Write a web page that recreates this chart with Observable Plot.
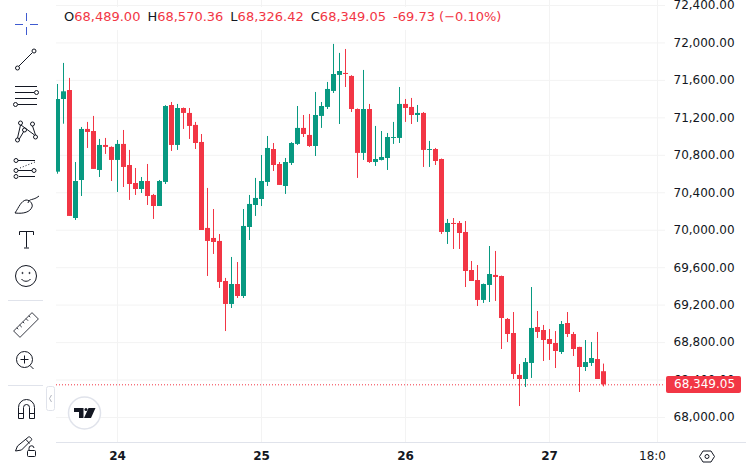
<!DOCTYPE html>
<html>
<head>
<meta charset="utf-8">
<script src="https://cdn.jsdelivr.net/npm/d3@7"></script>
<script src="https://cdn.jsdelivr.net/npm/@observablehq/plot@0.6"></script>
<style>
  body { margin: 0; background: #fff; overflow: hidden; font-family: "DejaVu Sans", sans-serif; }
  #wrap { position: relative; width: 746px; height: 470px; overflow: hidden; }
  #wrap > * { position: absolute; }
  #legend { left: 60px; top: 7px; height: 23px; line-height: 19px; padding: 0 10px 0 4px; background: #fff; font-size: 13px; color: #F23645; white-space: pre; }
  #legend b { font-weight: normal; color: #131722; }
  #legend span { margin-right: 7px; }
  #bottomline { left: 56px; right: 0; top: 442px; height: 1px; background: #e0e3eb; }
  #pricetag { left: 666px; width: 67px; height: 17px; line-height: 17px; padding-left: 8px; background: #F23645; color: #fff; font-size: 12px; border-radius: 2px; }
</style>
</head>
<body>
<div id="wrap">
  <div id="chart" style="left:0;top:0"></div>
  <div id="bottomline"></div>
  <div id="legend"></div>
  <svg id="tools" width="746" height="470" style="left:0;top:0" fill="none" stroke="#131722" stroke-width="1">
    <!-- crosshair -->
    <path d="M26.5 13v8M26.5 27v8M15 24.5h8M30 24.5h8" stroke="#3f5bd0"/>
    <!-- trend line -->
    <path d="M19 66L32 53"/><circle cx="17.5" cy="68" r="2"/><circle cx="34" cy="51" r="2"/>
    <!-- pitchfork lines -->
    <path d="M15 86.5h22M15 92.5h19M15 98.5h22M18 104.5h19"/><circle cx="36.5" cy="92.5" r="2"/><circle cx="15.5" cy="104.5" r="2"/>
    <!-- pattern -->
    <path d="M20.5 125L17.5 138M21 125L34.5 135M32.5 126L35.5 135M19 139.5L24 131"/>
    <circle cx="20.5" cy="123" r="2"/><circle cx="32.5" cy="124" r="2"/><circle cx="17.5" cy="140" r="2"/><circle cx="35.5" cy="137" r="2"/><circle cx="24.5" cy="130" r="2"/>
    <!-- forecast -->
    <path d="M18 160.5h17M18 170.5h14M19 176.5h16"/><path d="M20 168L35 162" stroke-dasharray="1 2"/>
    <circle cx="16" cy="160.5" r="2"/><circle cx="16" cy="170.5" r="2"/><circle cx="34" cy="170.5" r="2"/><circle cx="16" cy="176.5" r="2"/>
    <!-- brush -->
    <path d="M15 213C19 207 21 201 26 200C31 200 33 205 32 207C30 212 24 214 15 213ZM28 203C29 198 33 201 39 196"/>
    <!-- text -->
    <path d="M19.5 235v-3.5h14v3.5M26.5 231.5v16M24 248h5"/>
    <!-- smiley -->
    <circle cx="26" cy="276" r="10.5"/><path d="M21.5 279c2 3 7 3 9 0"/><circle cx="22.5" cy="273" r=".6"/><circle cx="29.5" cy="273" r=".6"/>
    <!-- separators -->
    <path d="M8 300.5h35M8 385.5h35" stroke="#e0e3eb"/>
    <!-- ruler -->
    <g transform="rotate(-45 26 325)" stroke-width=".8"><rect x="13" y="320.5" width="26" height="9"/><path d="M17.5 320.5v2M21.500 320.5v3M26 320.5v2M30.500 320.500v3M34.500 320.500v2"/></g>
    <!-- zoom -->
    <circle cx="24.500" cy="359.500" r="8"/><path d="M30 365.500l3.500 3.500M24.500 355.500v8M20.500 359.500h8"/>
    <!-- collapse tab -->
    <rect x="46.500" y="386.500" width="8" height="24" rx="2" stroke="#e0e3eb"/><path d="M51.500 395l-2 3.500 2 3.500" stroke="#b2b5be"/>
    <!-- magnet -->
    <path d="M18.500 418.500v-11a8 8 0 0 1 16 0v11h-5v-11a3 3 0 0 0-6 0v11ZM18.500 413.500h5M29.500 413.500h5"/>
    <!-- pencil lock -->
    <path d="M15.500 451l2-5 11-9c1-1 4 2 3 3l-10 10ZM26 439.500l3.500 4"/><rect x="27.500" y="450.500" width="8" height="6" rx="1"/><path d="M29 450.500v-2a2.500 2.500 0 0 1 5 -.5"/>
    <!-- logo -->
    <circle cx="84.500" cy="413" r="16" stroke="#e0e3eb" stroke-width="1.500" fill="#fff"/>
    <path d="M74 408h9.500v10h-4.500v-6h-5ZM88.500 408h7l-4.500 10h-7Z" fill="#131722" stroke="none"/><circle cx="86" cy="409.500" r="1.500" fill="#131722" stroke="none"/>
    <!-- settings -->
    <path d="M699.500 456.500l3.500-5.500h8l3.500 5.500-3.500 5.500h-8Z"/><circle cx="707" cy="456.500" r="2"/>
  </svg>
</div>
<script>
const hours = [-10,-9,-8,-7,-6,-5,-4,-3,-2,-1,0,1,2,3,4,5,6,7,8,9,10,11,12,13,14,15,16,17,18,19,20,21,22,23,24,25,26,27,28,29,30,31,32,33,34,35,36,37,38,39,40,41,42,43,44,45,46,47,48,49,50,51,52,53,54,55,56,57,58,59,60,61,62,63,64,65,66,67,68,69,70,71,72,73,74,75,76,77,78,79,80,81]

const opens = [70620,71396,71492,70125,70531,71076,71054,70638,70905,70884,70745,70916,70691,70499,70435,70520,70371,70253,70510,71332,70905,71300,71247,71119,70937,70019,69912,69880,69452,69207,69420,69292,70029,70264,70328,70510,70862,70702,70467,70713,70916,71087,71012,70894,71215,71311,71482,71653,71674,71642,71289,70820,71289,70723,70745,70766,70980,70980,71343,71311,71225,71247,70852,70862,70755,69976,70072,70072,69976,69570,69463,69250,69410,69517,69506,69047,68897,68449,68406,68577,68961,68929,68833,68790,68694,69004,68886,68748,68534,68577,68619,68489.00]
const highs = [71556,71781,71621,70723,71097,71151,71215,70969,70980,70890,70958,71065,70852,70659,70563,70702,70382,70531,71330,71364,71343,71305,71300,71151,71022,70446,70221,69954,69485,69709,69655,70221,70371,70553,70798,71001,70926,70723,70766,70935,71321,71225,71236,71471,71364,71578,71984,71888,71930,71650,71295,71706,71343,71108,71054,71033,71151,71524,71396,71407,71332,71257,70948,70873,70760,70115,70125,70093,70093,69666,69623,69425,69826,69773,69510,69057,69121,68566,68630,69388,69132,68983,68940,68918,69025,69121,68908,68750,68822,68801,68908,68570.36]
const lows = [70598,71132,70147,70104,70360,70873,70649,70563,70809,70520,70403,70456,70318,70371,70392,70264,70115,70253,70488,70841,70852,71076,70969,70862,69997,69506,69741,69378,68918,69164,69271,69271,69890,70147,70253,70467,70627,70478,70382,70691,70905,70990,70884,70787,71087,71289,71460,71129,71524,71257,70553,70745,70713,70681,70740,70638,70916,70926,71151,71129,71151,70670,70670,70691,69954,69848,69794,69794,69388,69452,69185,69218,69228,69239,68726,68801,68406,68117,68320,68417,68844,68598,68609,68523,68673,68854,68651,68267,68491,68545,68406,68326.42]
const closes = [71396,71478,70147,70520,71076,71044,70649,70905,70884,70745,70916,70670,70488,70435,70520,70360,70253,70520,71321,70905,71300,71247,71108,70926,69997,69880,69869,69442,69207,69420,69292,70040,70275,70339,70520,70873,70691,70478,70723,70926,71087,71022,70894,71225,71321,71503,71663,71695,71663,71289,70820,71289,70723,70755,70777,70990,70990,71343,71300,71225,71247,70852,70862,70734,69976,70072,70061,69965,69559,69452,69250,69420,69527,69495,69057,68886,68459,68406,68587,68951,68908,68822,68780,68705,68993,68886,68726,68534,68587,68630,68406,68349.05]

const priceTicks = [68000,68400,68800,69200,69600,70000,70400,70800,71200,71600,72000,72400]
const dayTicks = [0,24,48,72]
const dayLabels = ["24","25","26","27"]
const timeTicks = [90]
const timeLabels = ["18:0"]
const lastClose = 68349.05

const legendItems = [["O","68,489.00"],["H","68,570.36"],["L","68,326.42"],["C","68,349.05"]]
const legendChange = "-69.73 (\u22120.10%)"

const up = "#089981"
const down = "#F23645"
const gridColor = "#f3f3f3"

const candles = hours.map((h, i) => ({
  h, open: opens[i], high: highs[i], low: lows[i], close: closes[i],
  color: closes[i] >= opens[i] ? up : down
}))

let chart = Plot.plot({
  width: 746,
  height: 470,
  marginLeft: 56,
  marginRight: 81,
  marginTop: 0,
  marginBottom: 28,
  style: { fontFamily: "DejaVu Sans", background: "transparent", color: "#131722", overflow: "hidden" },
  x: { type: "linear", domain: [-10.1667, 91.3333] },
  y: { domain: [67733, 72453] },
  marks: [
    Plot.gridY({ ticks: priceTicks, stroke: gridColor, strokeOpacity: 1 }),
    Plot.gridX({ ticks: [...dayTicks, ...timeTicks], stroke: gridColor, strokeOpacity: 1 }),
    Plot.axisY({ anchor: "right", ticks: priceTicks, tickSize: 0, tickPadding: 8, tickFormat: d3.format(",.2f"), label: null, fontSize: 12, fill: "#131722" }),
    Plot.axisX({ ticks: dayTicks, tickFormat: d => dayLabels[dayTicks.indexOf(d)], tickSize: 0, tickPadding: 9, label: null, fontSize: 12, fontWeight: "bold", fill: "#131722" }),
    Plot.axisX({ ticks: timeTicks, tickFormat: d => timeLabels[timeTicks.indexOf(d)], tickSize: 0, tickPadding: 9, label: null, fontSize: 12, dx: -5, fill: "#131722" }),
    Plot.ruleY([lastClose], { stroke: down, strokeWidth: 1, strokeDasharray: "1 2" }),
    Plot.ruleX(candles, { x: "h", y1: "low", y2: "high", stroke: "color", strokeWidth: 1, clip: true }),
    Plot.ruleX(candles, { x: "h", y1: "open", y2: "close", stroke: "color", strokeWidth: 5, clip: true })
  ]
})
d3.select("#chart").append(() => chart)

// legend and last price tag sit over the chart
const legend = d3.select("#legend")
legendItems.forEach(([k, v]) => {
  legend.append("span").html(`<b>${k}</b>${v}`)
})
legend.append("span").text(legendChange)

const tagY = chart.scale("y").apply(lastClose)
d3.select("#wrap").append("div")
  .attr("id", "pricetag")
  .style("top", (tagY - 8) + "px")
  .text(d3.format(",.2f")(lastClose))
</script>
</body>
</html>
